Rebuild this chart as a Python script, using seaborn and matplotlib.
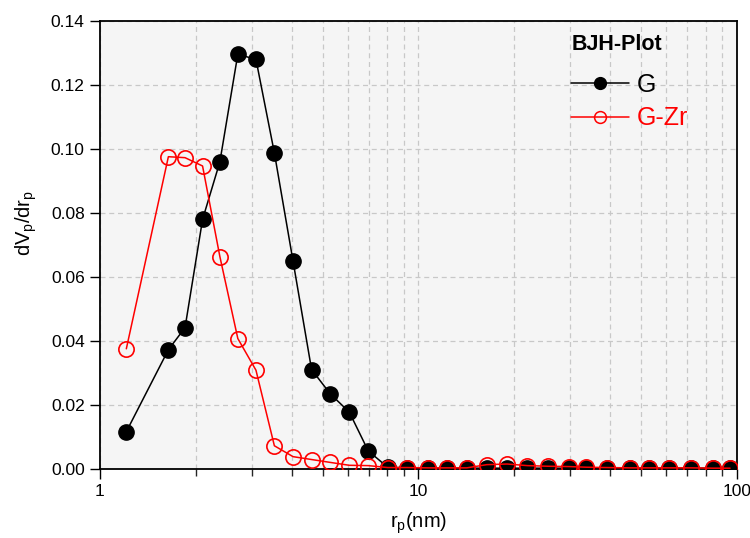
import matplotlib
matplotlib.use("Agg")
import matplotlib.pyplot as plt
import seaborn as sns
import numpy as np
from matplotlib.ticker import FixedLocator, LogLocator, NullFormatter, FuncFormatter
from matplotlib.lines import Line2D

# ---- data ----
r_p = [1.21, 1.64, 1.85, 2.10, 2.38, 2.71, 3.09, 3.53, 4.04, 4.62, 5.29, 6.07, 6.96,
       8.01, 9.22, 10.7, 12.3, 14.2, 16.4, 19.0, 22.0, 25.6, 29.7, 33.7, 39.0, 46.2,
       53.0, 61.2, 72.0, 84.5, 95.3]
G = [0.0117, 0.0373, 0.0442, 0.0780, 0.0960, 0.1296, 0.1280, 0.0988, 0.0650, 0.0311,
     0.0235, 0.0178, 0.0057, 0.0006, 0.0004, 0.0003, 0.0003, 0.0003, 0.0003, 0.0003,
     0.0003, 0.0003, 0.0003, 0.0003, 0.0003, 0.0003, 0.0003, 0.0003, 0.0003, 0.0003,
     0.0003]
G_Zr = [0.0376, 0.0976, 0.0973, 0.0947, 0.0664, 0.0408, 0.0309, 0.0073, 0.0039, 0.0030,
        0.0021, 0.0012, 0.0011, 0.0005, 0.0005, 0.0004, 0.0004, 0.0004, 0.0014, 0.0016,
        0.0011, 0.0009, 0.0008, 0.0006, 0.0005, 0.0004, 0.0004, 0.0004, 0.0004, 0.0003,
        0.0003]
series_names = ["G", "G-Zr"]
legend_title = "BJH-Plot"
y_ticks = [0.00, 0.02, 0.04, 0.06, 0.08, 0.10, 0.12, 0.14]
x_ticks = [1, 10, 100]

sns.set_style("ticks")
plt.rcParams['font.family'] = ['Liberation Sans', 'DejaVu Sans']
plt.rcParams['mathtext.fontset'] = 'custom'
plt.rcParams['mathtext.rm'] = 'Liberation Sans'
plt.rcParams['text.color'] = 'black'
plt.rcParams['axes.labelcolor'] = 'black'

fig = plt.figure(figsize=(7.5, 5.38), dpi=100)
ax = fig.add_axes([0.1333, 0.128, 0.849, 0.833])
ax.set_facecolor('#f5f5f5')

sns.lineplot(x=r_p, y=G, ax=ax, color='black', lw=1.1, marker='o', ms=11,
             markerfacecolor='black', markeredgecolor='black', markeredgewidth=1.0,
             zorder=3, clip_on=True)
sns.lineplot(x=r_p, y=G_Zr, ax=ax, color='red', lw=1.1, marker='o', ms=11,
             markerfacecolor='none', markeredgecolor='red', markeredgewidth=1.2,
             zorder=4, clip_on=True)

ax.set_xscale('log')
ax.set_xlim(1, 100)
ax.set_ylim(0, 0.14)
ax.set_yticks(y_ticks)
ax.yaxis.set_major_formatter(FuncFormatter(lambda v, p: f"{v:.2f}"))
ax.xaxis.set_major_locator(FixedLocator(x_ticks))
ax.xaxis.set_major_formatter(FuncFormatter(lambda v, p: f"{v:g}"))
ax.xaxis.set_minor_locator(LogLocator(base=10, subs=np.arange(2, 10)))
ax.xaxis.set_minor_formatter(NullFormatter())

ax.grid(True, which='major', axis='both', ls=(0, (4, 3)), color='#c8c8c8', lw=0.9)
ax.grid(True, which='minor', axis='x', ls=(0, (4, 3)), color='#c8c8c8', lw=0.9)
ax.set_axisbelow(True)

for s in ax.spines.values():
    s.set_visible(True)
    s.set_color('black')
    s.set_linewidth(1.3)

ax.tick_params(axis='both', which='major', direction='out', length=7, width=1.0,
               labelsize=12.5, colors='black', pad=4)
ax.tick_params(axis='x', which='minor', direction='out', length=5, width=1.0)

ax.set_xlabel(r'r$_\mathrm{p}$(nm)', fontsize=14.5, labelpad=8, color='black')
ax.set_ylabel(r'dV$_\mathrm{p}$/dr$_\mathrm{p}$', fontsize=14.5, color='black')
ax.yaxis.set_label_coords(-0.095, 0.55)

handles = [
    Line2D([0], [0], color='black', lw=1.1, marker='o', ms=8.5, mfc='black', mec='black'),
    Line2D([0], [0], color='red', lw=1.1, marker='o', ms=8.5, mfc='none', mec='red', mew=1.1),
]
leg = ax.legend(handles, series_names, loc='upper left',
                bbox_to_anchor=(571 / 750, 1 - 73 / 538), bbox_transform=fig.transFigure,
                frameon=False, fontsize=18, borderaxespad=0, borderpad=0,
                handlelength=2.3, handletextpad=0.35, labelspacing=0.38)
for txt, c in zip(leg.get_texts(), ['black', 'red']):
    txt.set_color(c)
fig.text(572 / 750, 1 - 45 / 538, legend_title, fontsize=15.5, fontweight='bold',
         ha='left', va='center', color='black')

fig.savefig('out.png', dpi=100)
